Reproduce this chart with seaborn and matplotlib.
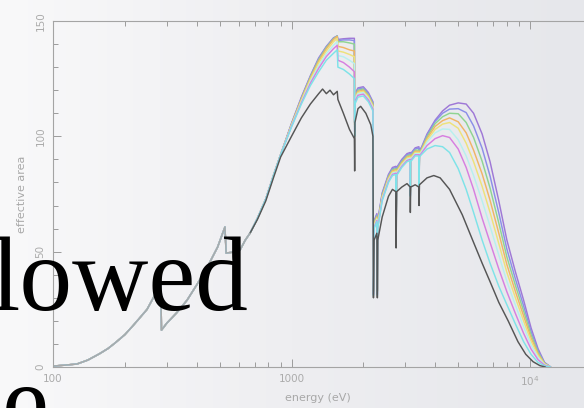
import numpy as np
import pandas as pd
import matplotlib
matplotlib.use("Agg")
import matplotlib.pyplot as plt
import seaborn as sns
from matplotlib.ticker import FixedLocator, LogLocator, MultipleLocator, NullFormatter
from matplotlib.colors import LinearSegmentedColormap

# ---------------- data ----------------
# shared low-energy part (all curves coincide)
energy_low = [100, 112, 126, 140, 157, 170, 182, 200, 216, 232, 248, 265, 283, 285,
              300, 330, 365, 400, 442, 490, 526, 532, 570, 608, 640, 670]
area_low = [0.4, 0.8, 1.3, 3.0, 5.8, 8.0, 10.4, 14.0, 17.8, 21.5, 25.0, 30.5, 36.8, 16.0,
            19.0, 23.5, 29.0, 35.5, 43.0, 52.0, 60.7, 49.4, 49.8, 50.7, 55.0, 58.0]

# uncoated / reference curve (gray)
energy_gray = [720, 780, 840, 900, 1000, 1100, 1200, 1300, 1350, 1400, 1450, 1500, 1555,
               1565, 1650, 1750, 1835, 1840, 1845, 1900, 1950, 2050, 2150, 2195, 2206,
               2220, 2280, 2291, 2300, 2400, 2550, 2650, 2740, 2745, 2760, 2900, 3050,
               3145, 3150, 3160, 3300, 3420, 3426, 3440, 3700, 3950, 4200, 4600, 5200,
               5800, 6300, 6800, 7400, 8100, 8900, 9600, 10300, 11000, 11600]
area_gray = [64, 72, 82, 91, 100, 108, 114, 118.5, 120.5, 118.5, 120, 118, 119.5,
             116, 110, 103, 99, 85, 106, 112, 113, 110, 105, 100, 30,
             55, 58, 30, 55, 65, 74, 77, 76, 51.6, 76, 78, 79.5,
             78, 67, 78, 79, 78, 70, 79, 82, 83, 82, 77, 66,
             54, 45, 37, 28, 20, 11, 5.5, 2.3, 0.6, 0]

# coated curves share one energy grid
energy_col = [720, 780, 840, 900,
              1000, 1100, 1200, 1300, 1400, 1500,
              1555, 1565, 1650, 1750, 1835, 1840, 1845,
              1900, 2000, 2100, 2195,
              2206, 2220, 2280, 2291, 2300,
              2400, 2550, 2650, 2740, 2745, 2760,
              2900, 3050, 3145, 3150, 3160,
              3300, 3420, 3426, 3440,
              3500, 3700, 4000, 4300, 4600, 5000, 5400, 5800, 6300, 6800, 7400,
              8000, 8700, 9400, 10100, 10800, 11500, 12200]

area_cyan = [64.5, 72.8, 83, 92,
             104, 114, 122, 128, 133, 136,
             137.5, 130, 129, 127, 125, 100, 114,
             117, 117.5, 115, 111,
             31, 60, 63, 31, 60,
             72, 80, 83, 83.5, 56, 83,
             86.5, 89, 89.5, 74, 89,
             91.5, 91.5, 78, 91,
             92, 94.5, 96, 95.5, 93, 86, 77, 67, 55, 45, 35,
             27, 18.5, 11, 5.5, 2, 0.5, 0]
area_magenta = [64.5, 72.8, 83, 92,
                104.3, 114.5, 123, 129.5, 134.6, 138,
                139.5, 133, 132, 130, 128, 102, 115,
                117.8, 118.3, 115.8, 111.8,
                31.5, 60.5, 63.5, 31.5, 60.5,
                72.5, 80.5, 83.5, 84, 56.5, 83.5,
                87, 89.5, 90, 74.5, 89.5,
                92, 92, 78.5, 91.5,
                92.6, 96, 99, 100.3, 99.5, 94.5, 86.5, 77, 64.5, 54, 42.5,
                32.6, 23, 14.6, 7.8, 3.2, 0.8, 0]
area_pale = [64.5, 72.8, 83, 92,
             104.5, 115, 123.8, 130.6, 135.8, 139.5,
             141, 135, 134.5, 133, 131.5, 103, 116,
             118.5, 119, 116.5, 112.5,
             32, 61, 64, 32, 61,
             73, 81, 84, 84.5, 57, 84,
             87.5, 90, 90.5, 75, 90,
             92.5, 92.5, 79, 92,
             93.1, 97.5, 101.5, 103.2, 103, 98.5, 91.5, 83, 72, 61, 48.5,
             37.1, 26.6, 17.5, 9.6, 4.2, 1.0, 0]
area_yellow = [64.5, 72.8, 83, 92,
               104.8, 115.5, 124.6, 131.8, 137, 141,
               142.5, 137, 136.5, 135.5, 134.5, 104, 116.5,
               119, 119.5, 117, 113,
               32.5, 61.5, 64.5, 32.5, 61.5,
               73.5, 81.5, 84.5, 85, 57.5, 84.5,
               88, 90.5, 91, 75.5, 90.5,
               93, 93, 79.5, 92.5,
               93.5, 98.3, 103, 105.3, 106, 103.5, 97, 89, 78.3, 67, 53.5,
               41, 29.8, 20, 11.3, 5, 1.3, 0]
area_orange = [64.5, 72.8, 83, 92,
               105, 116, 125.2, 132.6, 138, 142,
               143.3, 139, 138.5, 137.5, 137, 105, 117,
               119.5, 120, 117.5, 113.5,
               33, 62, 65, 33, 62,
               74, 82, 85, 85.5, 58, 85,
               88.5, 91, 91.5, 76, 91,
               93.5, 93.5, 80, 93,
               93.9, 99, 104.3, 106.8, 108, 106.3, 101.5, 94, 83.7, 72.3, 58,
               44.4, 32.5, 22.2, 12.6, 5.7, 1.4, 0]
area_green = [64.5, 72.8, 83, 92,
              105.2, 116.3, 125.7, 133.2, 138.5, 142.3,
              143.5, 141, 141, 140.5, 140, 106, 117.5,
              120, 120.5, 118, 114,
              33, 62.5, 65.5, 33, 62.5,
              74.5, 82.5, 85.5, 86, 58.5, 85.5,
              89, 91.5, 92, 76.5, 91.5,
              94, 94, 80.5, 93.5,
              94.2, 99.8, 105.5, 108.5, 110, 109.8, 106, 99.5, 89.2, 77.6, 62.4,
              47.7, 35.2, 24.3, 14, 6.4, 1.6, 0]
area_blue = [64.5, 72.8, 83, 92,
             105.4, 116.6, 126, 133.6, 138.8, 142.5,
             143.5, 141.5, 141.8, 141.8, 141.5, 106, 118,
             120.5, 121, 118.5, 114.5,
             33.5, 63, 66, 33.5, 63,
             75, 83, 86, 86.5, 59, 86,
             89.5, 92, 92.5, 77, 92,
             94.5, 95, 81, 94,
             94.6, 100.5, 106.5, 110, 111.8, 112, 110.3, 104.5, 94.8, 82.8, 66.8,
             51.1, 37.9, 26.5, 15.4, 7.2, 1.8, 0]
area_purple = [64.5, 72.8, 83, 92,
               105.6, 117, 126.3, 134, 139, 142.7,
               143.5, 142, 142.3, 142.5, 142.5, 106, 118.5,
               121, 121.5, 119, 115,
               34, 63.5, 66.5, 34, 63.5,
               75.5, 83.5, 86.5, 87, 59.5, 86.5,
               90, 92.5, 93, 77.5, 92.5,
               95, 95.5, 81.5, 94.5,
               95, 101, 107, 111, 113.5, 114.5, 114, 110, 101, 89, 72,
               55, 41, 29, 17, 8, 2, 0]

series_names = ["purple", "blue", "green", "orange", "yellow", "pale", "magenta", "cyan",
                "gray", "shared"]
series_colors = ["#9f78d6", "#8c8fe8", "#8fd492", "#f0b466", "#eee27a",
                 "#b8f0ee", "#d77fe0", "#7ee3e8", "#555555", "#a9a9a9"]

x_tick_labels = ["100", "1000", "10$^4$"]
y_tick_values = [0, 50, 100, 150]

# ---------------- build long table ----------------
coated = {"cyan": area_cyan, "magenta": area_magenta, "pale": area_pale,
          "yellow": area_yellow, "orange": area_orange, "green": area_green,
          "blue": area_blue, "purple": area_purple}
frames = []
for name in series_names:
    if name == "gray":
        e = energy_low[-1:] + energy_gray
        a = area_low[-1:] + area_gray
    elif name == "shared":
        e = energy_low
        a = area_low
    else:
        e = energy_low + energy_col
        a = area_low + coated[name]
    frames.append(pd.DataFrame({"energy": e, "area": a, "series": name}))
df = pd.concat(frames, ignore_index=True)

# ---------------- figure ----------------
sns.set_style("ticks")
plt.rcParams["font.family"] = ["DejaVu Sans"]

W, H = 584, 408
fig = plt.figure(figsize=(W / 100, H / 100), dpi=100)

# soft slide background
bg = fig.add_axes([0, 0, 1, 1], zorder=-10)
bg_cmap = LinearSegmentedColormap.from_list("bg", ["#f9f9fa", "#eeeef1", "#e6e7eb"])
bg.imshow(np.linspace(0, 1, 256)[None, :], cmap=bg_cmap, aspect="auto",
          extent=[0, 1, 0, 1], interpolation="bicubic")
bg.axis("off")

ax = fig.add_axes([53 / W, 41 / H, 531 / W, 346 / H])
ax.set_facecolor("none")

sns.lineplot(data=df, x="energy", y="area", hue="series", hue_order=series_names,
             palette=dict(zip(series_names, series_colors)), estimator=None,
             sort=False, linewidth=1.05, legend=False, ax=ax)

ax.set_xscale("log")
ax.set_xlim(100, 10 ** (2 + 531 / 238.5))
ax.set_ylim(0, 150)

ax.xaxis.set_major_locator(FixedLocator([100, 1000, 10000]))
ax.set_xticklabels(x_tick_labels)
ax.xaxis.set_minor_locator(LogLocator(base=10, subs=range(2, 10)))
ax.xaxis.set_minor_formatter(NullFormatter())
ax.yaxis.set_major_locator(FixedLocator(y_tick_values))
ax.set_yticklabels([str(v) for v in y_tick_values])
ax.yaxis.set_minor_locator(MultipleLocator(10))

ax.tick_params(which="both", direction="in", top=True, right=False,
               color="#9c9c9c", width=0.7, labelcolor="#ababab", labelsize=7.5)
ax.tick_params(which="major", length=6)
ax.tick_params(which="minor", length=3.5)
ax.tick_params(axis="x", pad=5)
ax.tick_params(axis="y", pad=5.5, labelrotation=90)
for lab in ax.get_yticklabels():
    lab.set_va("center")

for side in ["left", "top", "bottom"]:
    ax.spines[side].set_color("#a4a4a4")
    ax.spines[side].set_linewidth(0.8)
ax.spines["right"].set_visible(False)
ax.set_xlabel("")
ax.set_ylabel("")

fig.text(318 / W, 1 - 398 / H, "energy (eV)", ha="center", va="center",
         fontsize=8, color="#a8a8a8")
fig.text(22 / W, 1 - 194 / H, "effective area", ha="center", va="center",
         rotation=90, fontsize=8, color="#a8a8a8")

# overlapping slide text
fig.text(-9 / W, 98 / H, "lowed", ha="left", va="baseline",
         fontsize=76, family=["Liberation Serif", "DejaVu Serif"], color="black")
fig.text(2 / W, -29 / H, "e", ha="left", va="baseline",
         fontsize=76, family=["Liberation Serif", "DejaVu Serif"], color="black")

fig.savefig("out.png", dpi=100)
